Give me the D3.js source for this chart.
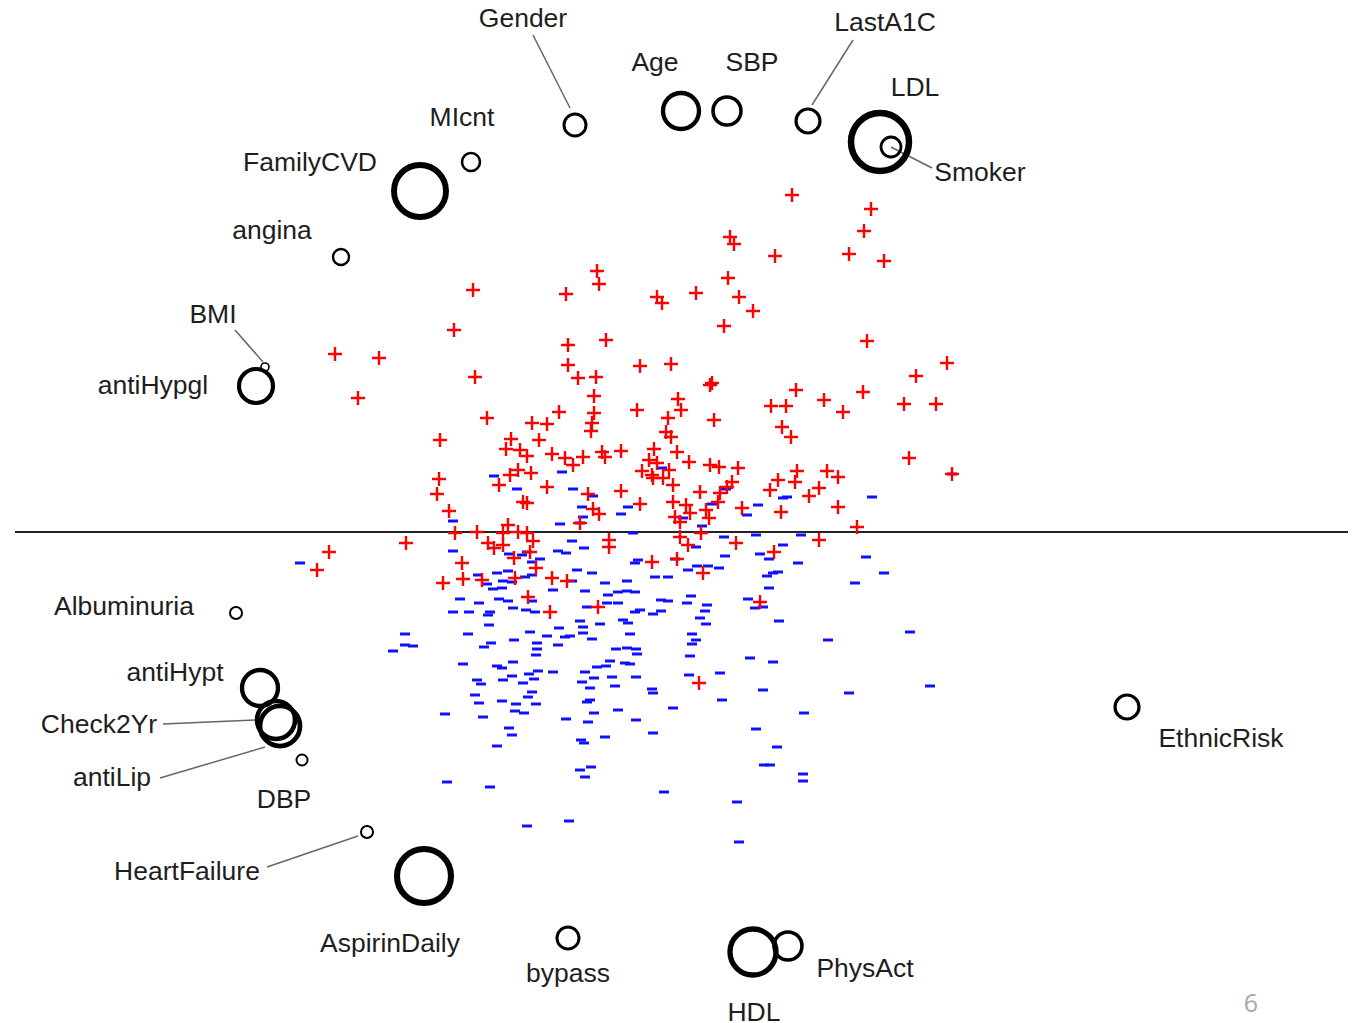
<!DOCTYPE html>
<html>
<head>
<meta charset="utf-8">
<script src="https://cdn.jsdelivr.net/npm/d3@7"></script>
<style>
  html, body { margin: 0; padding: 0; background: #fff; }
  svg { display: block; }
</style>
</head>
<body>
<div id="chart"></div>
<script>
// Sample scores (ordination axes 1 and 2): cases above the line, controls below
const positives = [
  [-2.07, 2.42], [-1.14, 2.38], [-0.83, 2.61], [-0.81, 2.48], [-2.26, 2.02], [-1.12, 1.87],
  [-0.74, 1.92], [-3.45, 1.78], [-3.01, 1.74], [1.12, 3.37], [1.91, 3.23], [1.84, 3.01],
  [1.69, 2.78], [2.04, 2.71], [0.50, 2.95], [0.54, 2.88], [0.95, 2.76], [0.48, 2.54],
  [0.16, 2.39], [-0.23, 2.35], [-0.18, 2.29], [0.59, 2.35], [0.73, 2.21], [0.44, 2.06],
  [1.87, 1.91], [-3.22, 1.34], [-2.05, 1.55], [-1.12, 1.67], [-1.02, 1.54], [-0.84, 1.55],
  [-0.86, 1.36], [-0.86, 1.19], [-0.88, 1.09], [-0.89, 1.01], [-1.93, 1.14], [-1.21, 1.20],
  [-1.48, 1.09], [-1.33, 1.08], [-2.40, 0.92], [-1.69, 0.93], [-1.41, 0.92], [-1.74, 0.83],
  [-1.60, 0.82], [-1.53, 0.76], [-1.28, 0.78], [-1.15, 0.74], [-1.07, 0.67], [-0.97, 0.75],
  [-0.78, 0.80], [-0.75, 0.75], [-0.59, 0.81], [-2.41, 0.53], [-2.43, 0.38], [-2.31, 0.21],
  [-1.81, 0.47], [-1.70, 0.57], [-1.62, 0.62], [-1.49, 0.59], [-1.33, 0.45], [-1.57, 0.30],
  [-1.53, 0.29], [-0.92, 0.38], [-0.87, 0.23], [-0.81, 0.18], [-0.59, 0.41], [-1.72, 0.07],
  [-1.00, 0.09], [-0.40, 1.66], [-0.09, 1.68], [0.32, 1.49], [0.30, 1.47], [1.16, 1.42],
  [1.83, 1.40], [2.36, 1.56], [2.67, 1.69], [1.44, 1.32], [0.91, 1.26], [1.06, 1.26],
  [1.63, 1.20], [2.24, 1.28], [2.56, 1.28], [-0.43, 1.22], [-0.02, 1.33], [0.01, 1.22],
  [-0.12, 1.14], [0.34, 1.12], [1.02, 1.05], [1.11, 0.95], [-0.14, 1.00], [-0.09, 0.95],
  [-0.26, 0.83], [-0.03, 0.80], [0.09, 0.70], [-0.31, 0.72], [-0.23, 0.69], [-0.38, 0.61],
  [-0.28, 0.57], [-0.11, 0.62], [-0.17, 0.54], [-0.07, 0.47], [-0.27, 0.54], [0.30, 0.67],
  [0.39, 0.65], [0.58, 0.64], [0.52, 0.50], [0.47, 0.45], [0.40, 0.39], [0.38, 0.30],
  [0.20, 0.40], [-0.40, 0.28], [-0.07, 0.30], [0.06, 0.27], [0.10, 0.19], [-0.05, 0.15],
  [0.00, 0.10], [0.26, 0.22], [0.29, 0.14], [1.17, 0.61], [1.15, 0.50], [0.98, 0.52],
  [0.90, 0.42], [1.47, 0.61], [1.58, 0.55], [1.39, 0.44], [1.29, 0.36], [2.29, 0.74],
  [2.72, 0.58], [0.62, 0.24], [1.01, 0.20], [1.58, 0.25], [1.77, 0.05], [-3.51, -0.20],
  [-3.63, -0.38], [-2.74, -0.11], [-2.25, -0.01], [-2.03, 0.00], [-1.77, -0.01], [-1.62, 0.00],
  [-1.53, -0.01], [-1.92, -0.11], [-1.86, -0.16], [-1.77, -0.13], [-1.47, -0.09], [-1.50, -0.20],
  [-2.18, -0.31], [-1.66, -0.26], [-1.44, -0.36], [-2.37, -0.51], [-2.17, -0.47], [-1.98, -0.48],
  [-1.65, -0.46], [-1.28, -0.46], [-1.13, -0.49], [-1.52, -0.65], [-1.30, -0.80], [-0.82, -0.75],
  [-0.71, -0.08], [-0.71, -0.15], [1.39, -0.08], [0.94, -0.20], [0.56, -0.11], [0.21, -0.01],
  [0.00, -0.05], [0.08, -0.13], [-0.28, -0.30], [-0.03, -0.27], [0.23, -0.41], [0.80, -0.70],
  [0.19, -1.51]
];

const negatives = [
  [-1.86, 0.56], [-1.63, 0.43], [-1.18, 0.60], [-1.07, 0.43], [-0.87, 0.36], [-0.98, 0.25],
  [-0.97, 0.15], [-1.00, 0.09], [-1.20, 0.08], [-0.59, 0.18], [-2.27, 0.11], [-0.52, 0.25],
  [-0.18, 0.64], [0.32, 0.28], [0.46, 0.43], [0.03, 0.14], [0.22, 0.06], [0.78, 0.27],
  [0.67, 0.17], [1.07, 0.35], [1.03, 0.34], [1.92, 0.35], [2.72, 0.58], [-3.80, -0.31],
  [-2.27, -0.19], [-1.08, -0.09], [-0.96, -0.16], [-1.22, -0.19], [-1.14, -0.21], [-1.71, -0.22],
  [-1.58, -0.23], [-1.53, -0.20], [-1.48, -0.30], [-1.40, -0.27], [-1.03, -0.38], [-0.88, -0.41],
  [-1.83, -0.41], [-1.72, -0.39], [-2.02, -0.43], [-1.93, -0.52], [-1.77, -0.49], [-1.68, -0.50],
  [-1.55, -0.45], [-1.48, -0.43], [-1.08, -0.49], [-1.27, -0.58], [-0.95, -0.59], [-0.75, -0.51],
  [-0.53, -0.49], [-0.53, -0.59], [-0.62, -0.60], [-0.72, -0.63], [-1.87, -0.57], [-1.78, -0.56],
  [-2.20, -0.67], [-2.01, -0.71], [-1.81, -0.67], [-1.72, -0.69], [-1.48, -0.69], [-2.27, -0.80],
  [-2.11, -0.80], [-1.90, -0.80], [-1.92, -0.83], [-1.67, -0.76], [-1.54, -0.78], [-1.45, -0.80],
  [-0.93, -0.75], [-0.73, -0.71], [-0.62, -0.71], [-1.00, -0.89], [-0.97, -0.95], [-0.80, -0.92],
  [-0.57, -0.88], [-0.52, -0.91], [-1.91, -0.93], [-2.12, -1.02], [-2.75, -1.02], [-2.75, -1.13],
  [-2.67, -1.14], [-2.87, -1.19], [-1.50, -1.00], [-1.33, -1.04], [-1.21, -0.96], [-1.15, -1.05],
  [-1.10, -1.04], [-0.97, -1.01], [-0.88, -1.07], [-1.66, -1.08], [-1.43, -1.11], [-1.43, -1.17],
  [-1.22, -1.13], [-1.89, -1.11], [-1.96, -1.15], [-1.44, -1.23], [-0.64, -1.17], [-0.53, -1.16],
  [-2.17, -1.32], [-1.83, -1.34], [-1.78, -1.36], [-1.67, -1.30], [-1.51, -1.42], [-1.42, -1.39],
  [-1.27, -1.40], [-1.68, -1.44], [-1.77, -1.48], [-1.57, -1.51], [-1.46, -1.47], [-2.03, -1.48],
  [-1.99, -1.52], [-0.95, -1.40], [-0.83, -1.35], [-0.74, -1.34], [-0.70, -1.29], [-0.55, -1.31],
  [-0.86, -1.46], [-0.68, -1.45], [-0.98, -1.50], [-0.65, -1.54], [-0.90, -1.56], [-0.47, -0.01],
  [0.44, -0.05], [0.76, -0.03], [1.21, -0.03], [0.16, -0.15], [1.03, -0.13], [0.45, -0.24],
  [0.80, -0.22], [0.89, -0.27], [1.18, -0.31], [1.86, -0.25], [-0.42, -0.28], [-0.45, -0.31],
  [-0.05, -0.27], [0.17, -0.34], [0.08, -0.38], [0.28, -0.34], [0.39, -0.36], [-0.25, -0.45],
  [-0.12, -0.45], [0.87, -0.44], [0.93, -0.41], [0.98, -0.40], [2.04, -0.41], [1.75, -0.51],
  [0.89, -0.56], [-0.45, -0.60], [0.11, -0.64], [-0.19, -0.68], [-0.12, -0.69], [0.07, -0.71],
  [0.27, -0.73], [0.68, -0.67], [0.75, -0.76], [0.83, -0.75], [-0.45, -0.80], [-0.40, -0.78],
  [-0.19, -0.79], [-0.27, -0.82], [0.25, -0.79], [0.20, -0.86], [0.26, -0.92], [0.99, -0.89],
  [-0.50, -1.02], [0.12, -1.02], [0.16, -1.08], [0.12, -1.12], [1.48, -1.08], [2.30, -1.00],
  [-0.44, -1.17], [-0.43, -1.22], [0.10, -1.24], [0.70, -1.26], [0.93, -1.30], [-0.50, -1.32],
  [-0.44, -1.45], [0.09, -1.43], [0.40, -1.41], [2.50, -1.54], [-0.28, -1.57], [0.83, -1.58],
  [-0.27, -1.61], [-2.05, -1.63], [-1.48, -1.60], [-1.52, -1.65], [-2.01, -1.71], [-1.78, -1.69],
  [-1.64, -1.72], [-1.44, -1.72], [-0.90, -1.68], [-0.93, -1.70], [0.42, -1.68], [-2.35, -1.82],
  [-1.97, -1.85], [-1.65, -1.79], [-1.56, -1.81], [-0.86, -1.81], [-0.62, -1.78], [-0.07, -1.76],
  [-1.14, -1.87], [-0.92, -1.90], [-0.44, -1.88], [-1.71, -1.96], [-1.68, -2.03], [-0.27, -2.01],
  [0.76, -1.97], [-1.83, -2.14], [-0.99, -2.08], [-0.96, -2.11], [-0.75, -2.05], [0.97, -2.15],
  [-1.00, -2.38], [-0.89, -2.35], [-0.95, -2.45], [0.90, -2.33], [0.84, -2.33], [-2.33, -2.50],
  [-1.90, -2.55], [-0.16, -2.60], [0.57, -2.70], [-1.53, -2.94], [-1.11, -2.89], [0.59, -3.10],
  [1.69, -1.61], [1.24, -1.81], [1.23, -2.42], [1.23, -2.49]
];

// Variables: score on axes 1/2 and contribution (drawn as circle area)
const variables = ["Gender", "Age", "SBP", "LastA1C", "LDL", "Smoker", "MIcnt", "FamilyCVD",
  "angina", "BMI", "antiHypgl", "Albuminuria", "antiHypt", "Check2Yr", "antiLip", "DBP",
  "HeartFailure", "AspirinDaily", "bypass", "HDL", "PhysAct", "EthnicRisk"];
const varX = [-1.05, 0.01, 0.47, 1.28, 2.00, 2.11, -2.09, -2.60, -3.39, -4.15, -4.24, -4.44,
  -4.20, -4.04, -4.00, -3.78, -3.13, -2.56, -1.12, 0.73, 1.08, 4.47];
const varY = [4.07, 4.21, 4.21, 4.11, 3.90, 3.85, 3.70, 3.41, 2.75, 1.65, 1.46, -0.81,
  -1.56, -1.88, -1.94, -2.28, -3.00, -3.44, -4.06, -4.20, -4.14, -1.75];
const varWeight = [14.4, 38.5, 23.3, 17.1, 100, 11.9, 9.6, 80.4, 7.6, 1.9, 34.4, 4.3,
  38.5, 42.9, 47.6, 3.6, 4.3, 86.7, 14.4, 62.9, 23.3, 17.1];

// label placement (pixel offsets from the circle) and optional leader lines
const labelOffset = {
  Gender: [-52, -107], Age: [-26, -49], SBP: [25, -49], LastA1C: [77, -99], LDL: [35, -55],
  Smoker: [89, 25], MIcnt: [-9, -45], FamilyCVD: [-110, -29], angina: [-69, -27],
  BMI: [-52, -53], antiHypgl: [-103, -1], Albuminuria: [-112, -7], antiHypt: [-85, -16],
  Check2Yr: [-177, 4], antiLip: [-168, 51], DBP: [-18, 39], HeartFailure: [-180, 39],
  AspirinDaily: [-34, 67], bypass: [0, 35], HDL: [1, 60], PhysAct: [77, 22], EthnicRisk: [94, 31]
};
const leaders = {
  Gender: [-5, -17, -42, -90], LastA1C: [4, -16, 45, -81], Smoker: [0, 0, 41, 21],
  BMI: [-2, -5, -30, -37], Check2Yr: [-21, 0, -113, 4], antiLip: [-15, 21, -120, 52],
  HeartFailure: [-9, 4, -100, 35]
};

const width = 1358, height = 1023;

const x = d3.scaleLinear().domain([-6.8, 6.78]).range([0, width]);
const y = d3.scaleLinear().domain([5.32, -4.91]).range([0, height]);
const r = d3.scaleSqrt().domain([0, 100]).range([0, 29]);
const sw = d3.scaleLinear().domain([4, 29]).range([1.6, 6.5]).clamp(true);

const svg = d3.select("#chart").append("svg")
  .attr("width", width)
  .attr("height", height)
  .attr("viewBox", `0 0 ${width} ${height}`);

// dividing line at axis 2 = 0
svg.append("line")
  .attr("x1", x(-6.65)).attr("x2", x(6.68))
  .attr("y1", y(0)).attr("y2", y(0))
  .attr("stroke", "#222")
  .attr("stroke-width", 2);

// controls: blue dashes
svg.append("g")
  .selectAll("path")
  .data(negatives)
  .join("path")
  .attr("d", "M-5,0H5")
  .attr("transform", (d) => `translate(${x(d[0])},${y(d[1])})`)
  .attr("stroke", "#1010ff")
  .attr("stroke-width", 3);

// cases: red pluses
svg.append("g")
  .selectAll("path")
  .data(positives)
  .join("path")
  .attr("d", "M-7,0H7M0,-7V7")
  .attr("transform", (d) => `translate(${x(d[0])},${y(d[1])})`)
  .attr("stroke", "#ff0000")
  .attr("stroke-width", 2.4);

const vars = variables.map((name, i) => ({
  name, vx: varX[i], vy: varY[i], w: varWeight[i]
}));

// leader lines
svg.append("g")
  .selectAll("line")
  .data(vars.filter((d) => leaders[d.name]))
  .join("line")
  .attr("x1", (d) => x(d.vx) + leaders[d.name][0])
  .attr("y1", (d) => y(d.vy) + leaders[d.name][1])
  .attr("x2", (d) => x(d.vx) + leaders[d.name][2])
  .attr("y2", (d) => y(d.vy) + leaders[d.name][3])
  .attr("stroke", "#666")
  .attr("stroke-width", 1.5);

// variable circles
svg.append("g")
  .selectAll("circle")
  .data(vars)
  .join("circle")
  .attr("cx", (d) => x(d.vx))
  .attr("cy", (d) => y(d.vy))
  .attr("r", (d) => r(d.w))
  .attr("fill", "none")
  .attr("stroke", "#000")
  .attr("stroke-width", (d) => sw(r(d.w)));

// labels
svg.append("g")
  .attr("text-anchor", "middle")
  .style("font-family", "'Liberation Sans', Arial, sans-serif")
  .style("font-size", "26.5px")
  .attr("fill", "#1e1e1e")
  .selectAll("text")
  .data(vars)
  .join("text")
  .attr("x", (d) => x(d.vx) + labelOffset[d.name][0])
  .attr("y", (d) => y(d.vy) + labelOffset[d.name][1])
  .attr("dy", "0.33em")
  .text((d) => d.name);

// slide number
svg.append("text")
  .attr("x", 1251)
  .attr("y", 1003)
  .attr("dy", "0.36em")
  .attr("text-anchor", "middle")
  .style("font-family", "'Open Sans', sans-serif")
  .style("font-size", "25px")
  .attr("fill", "#a6a6a6")
  .text("6");
</script>
</body>
</html>
